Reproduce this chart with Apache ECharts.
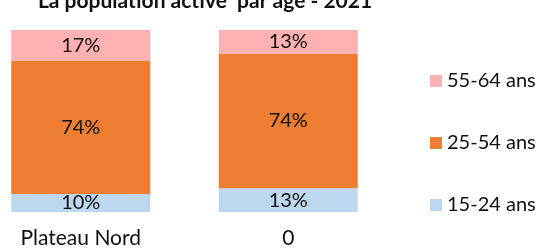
<!DOCTYPE html>
<html><head><meta charset="utf-8">
<script src="https://cdn.jsdelivr.net/npm/echarts@6/dist/echarts.min.js"></script>
<style>html,body{margin:0;padding:0;background:#fff}#c{width:539px;height:248px}</style>
</head><body><div id="c"></div>
<script>
const categories = ['Plateau Nord', '0'];
const seriesNames = ['15-24 ans', '25-54 ans', '55-64 ans'];
const v1524 = [10, 13];
const v2554 = [74, 74];
const v5564 = [17, 13];
const colors = ['#BDD7EE', '#ED7D31', '#FFB0B0'];
const title = 'La population active  par âge - 2021';

const raw = [v1524, v2554, v5564];
const totals = categories.map((_, i) => raw.reduce((s, a) => s + a[i], 0));
const chart = echarts.init(document.getElementById('c'));
chart.setOption({
  animation: false,
  textStyle: { fontFamily: 'Lato' },
  title: { text: title, left: 205, textAlign: 'center', top: -9, padding: 0,
    textStyle: { fontFamily: 'Lato', fontWeight: 'bold', fontSize: 21, color: '#111' } },
  grid: { left: -23, width: 415, top: 30, height: 182, outerBoundsMode: 'none', containLabel: false },
  legend: {
    orient: 'vertical', left: 430, top: 71, padding: 0, itemWidth: 12, itemHeight: 12, itemGap: 42,
    icon: 'rect', data: seriesNames.slice().reverse(),
    textStyle: { fontFamily: 'Lato', fontSize: 20, color: '#111' }
  },
  xAxis: { type: 'category', data: categories, axisLine: { show: false }, axisTick: { show: false },
    axisLabel: { fontFamily: 'Lato', fontSize: 21, color: '#111', margin: 16 } },
  yAxis: { type: 'value', min: 0, max: 100, show: false, splitLine: { show: false } },
  series: raw.map((arr, k) => ({
    name: seriesNames[k], type: 'bar', stack: 'a', barWidth: 139,
    itemStyle: { color: colors[k] },
    data: arr.map((v, i) => v / totals[i] * 100),
    label: { show: true, position: 'inside', fontFamily: 'Lato', fontSize: 20, color: '#111',
      formatter: p => arr[p.dataIndex] + '%' }
  }))
});
</script></body></html>
